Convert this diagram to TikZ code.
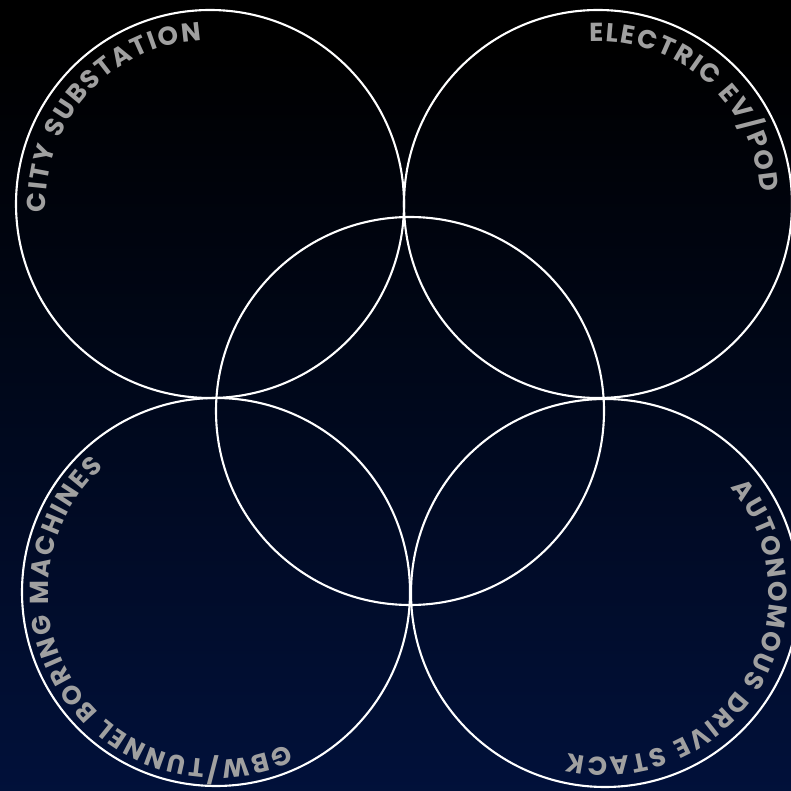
\documentclass[tikz,border=0pt]{standalone}
\usepackage{fontspec}
\newfontfamily\popfont{Poppins}
\usetikzlibrary{decorations.text}
\definecolor{navybot}{RGB}{1,20,70}
\definecolor{txtgray}{RGB}{160,160,160}
\pgfdeclareverticalshading{bgshade}{100bp}{color(0bp)=(navybot); color(20bp)=(navybot!92!black); color(72bp)=(black); color(100bp)=(black)}
\tikzset{
  ring/.style={circle, draw=white, line width=2.1pt, minimum size=388pt, inner sep=0pt},
  arctext/.style={decorate, decoration={text along path, text align=fit to path,
    text={|\popfont\bfseries\fontsize{26}{26}\selectfont\color{txtgray}|#1}}}
}
\begin{document}
\begin{tikzpicture}[x=1pt,y=1pt]
\shade[shading=bgshade] (0,0) rectangle (791,790);
\useasboundingbox (0,0) rectangle (791,790);
\coordinate (TLc) at (210,586);
\coordinate (TRc) at (598,586);
\coordinate (Mc) at (410,379);
\coordinate (BLc) at (216,198);
\coordinate (BRc) at (605,197);
\node[ring] (TL) at (TLc) {};
\node[ring] (TR) at (TRc) {};
\node[ring] (M) at (Mc) {};
\node[ring] (BL) at (BLc) {};
\node[ring] (BR) at (BRc) {};
\path[arctext={CITY SUBSTATION}] ([shift={(183:164pt)}]TLc) arc[start angle=183, end angle=93, radius=164pt];
\path[arctext={ELECTRIC EV/POD}] ([shift={(93:163pt)}]TRc) arc[start angle=93, end angle=4, radius=163pt];
\path[arctext={GBW/TUNNEL BORING MACHINES}] ([shift={(-65:168pt)}]BLc) arc[start angle=-65, end angle=-228, radius=168pt];
\path[arctext={AUTONOMOUS DRIVE STACK}] ([shift={(40:164pt)}]BRc) arc[start angle=40, end angle=-103, radius=164pt];
\end{tikzpicture}
\end{document}
